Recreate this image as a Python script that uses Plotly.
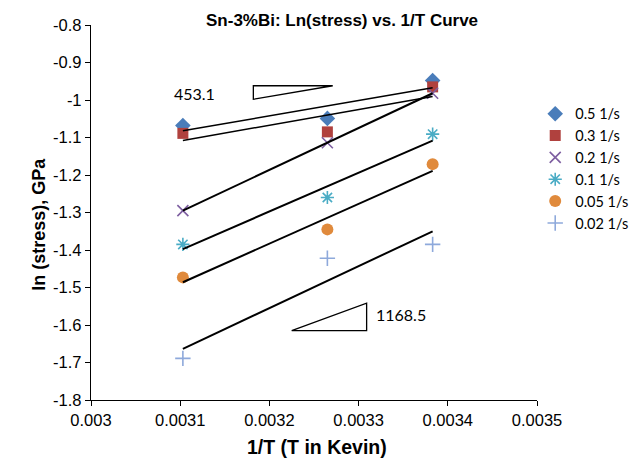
import numpy as np
import plotly.graph_objects as go

# ---- data ----
inv_T = [0.003103, 0.003265, 0.003383]
series_names = ["0.5 1/s", "0.3 1/s", "0.2 1/s", "0.1 1/s", "0.05 1/s", "0.02 1/s"]
ln_stress_05 = [-1.068, -1.049, -0.948]
ln_stress_03 = [-1.089, -1.085, -0.965]
ln_stress_02 = [-1.295, -1.114, -0.982]
ln_stress_01 = [-1.385, -1.260, -1.091]
ln_stress_005 = [-1.473, -1.345, -1.171]
ln_stress_002 = [-1.689, -1.422, -1.385]
series_values = [ln_stress_05, ln_stress_03, ln_stress_02, ln_stress_01, ln_stress_005, ln_stress_002]

y_tick_vals = [-0.8, -0.9, -1.0, -1.1, -1.2, -1.3, -1.4, -1.5, -1.6, -1.7, -1.8]
y_tick_text = ["-0.8", "-0.9", "-1", "-1.1", "-1.2", "-1.3", "-1.4", "-1.5", "-1.6", "-1.7", "-1.8"]
x_tick_vals = [0.003, 0.0031, 0.0032, 0.0033, 0.0034, 0.0035]
x_tick_text = ["0.003", "0.0031", "0.0032", "0.0033", "0.0034", "0.0035"]

slope_labels = ["453.1", "1168.5"]

# ---- styles ----
colors = ["#4A7DBA", "#B0413E", "#7E5FA1", "#4AACC5", "#E08A3C", "#8EA9DB"]
symbols = ["diamond", "square", "x-thin-open", "asterisk-open", "circle", "cross-thin-open"]
sizes = [12, 11, 11, 11, 12, 11]
line_widths = [1.5, 1.5, 2, 2, 2, 2]
sans = "Liberation Sans, Arial, sans-serif"
cal = "Lato, Open Sans, sans-serif"

fig = go.Figure()
for name, vals, c, s, sz in zip(series_names, series_values, colors, symbols, sizes):
    open_sym = s.endswith("open")
    fig.add_trace(go.Scatter(
        x=inv_T, y=vals, mode="markers", name=name,
        marker=dict(symbol=s, size=sz, color=c,
                    line=dict(width=1.6 if open_sym else 0, color=c)),
    ))

# least-squares trend lines over the data range
xs = np.array(inv_T)
for vals, lw in zip(series_values, line_widths):
    k, b = np.polyfit(xs, np.array(vals), 1)
    xe = np.array([xs.min(), xs.max()])
    fig.add_trace(go.Scatter(x=xe, y=k * xe + b, mode="lines",
                             line=dict(color="black", width=lw),
                             showlegend=False, hoverinfo="skip"))

# slope triangles (annotation decorations)
tri1 = "M 0.003182,-0.962 L 0.003271,-0.962 L 0.003182,-0.998 Z"
tri2 = "M 0.003225,-1.615 L 0.003309,-1.615 L 0.003309,-1.542 Z"
for p in (tri1, tri2):
    fig.add_shape(type="path", path=p, xref="x", yref="y",
                  line=dict(color="black", width=1.3), fillcolor="rgba(0,0,0,0)")

fig.add_annotation(x=0.0031156, y=-0.982, text=slope_labels[0], showarrow=False,
                   font=dict(family=cal, size=16, color="black"))
fig.add_annotation(x=0.003348, y=-1.571, text=slope_labels[1], showarrow=False,
                   font=dict(family=cal, size=16, color="black"))

# titles
fig.add_annotation(x=0.563, y=1.013, xref="paper", yref="paper",
                   text="<b>Sn-3%Bi: Ln(stress) vs. 1/T Curve</b>", showarrow=False,
                   yanchor="middle", font=dict(family=sans, size=17, color="black"))
fig.add_annotation(x=-0.1435, y=0.47, xref="paper", yref="paper",
                   text="<b>ln (stress), GPa</b>", showarrow=False, textangle=-90,
                   font=dict(family=sans, size=18, color="black"))
fig.add_annotation(x=0.506, y=-0.125, xref="paper", yref="paper",
                   text="<b>1/T (T in Kevin)</b>", showarrow=False, yanchor="middle",
                   font=dict(family=sans, size=19.5, color="black"))

axis_font = dict(family=sans, size=16.5, color="black")
fig.update_xaxes(range=[0.003, 0.0035], tickvals=x_tick_vals, ticktext=x_tick_text,
                 showline=True, linecolor="black", linewidth=1.3, ticks="outside",
                 ticklen=5, tickcolor="black", showgrid=False, zeroline=False,
                 tickfont=axis_font)
fig.update_yaxes(range=[-1.8, -0.8], tickvals=y_tick_vals, ticktext=y_tick_text,
                 showline=True, linecolor="black", linewidth=1.3, ticks="outside",
                 ticklen=5, tickcolor="black", showgrid=False, zeroline=False,
                 tickfont=axis_font)

fig.update_layout(
    width=644, height=461,
    margin=dict(l=91, r=107, t=25, b=61, autoexpand=False),
    plot_bgcolor="white", paper_bgcolor="white",
    legend=dict(x=0.996, y=0.806, xanchor="left", yanchor="top",
                font=dict(family=cal, size=14.5, color="black"),
                bgcolor="rgba(0,0,0,0)", tracegroupgap=0),
)

fig.write_html("out.html")
